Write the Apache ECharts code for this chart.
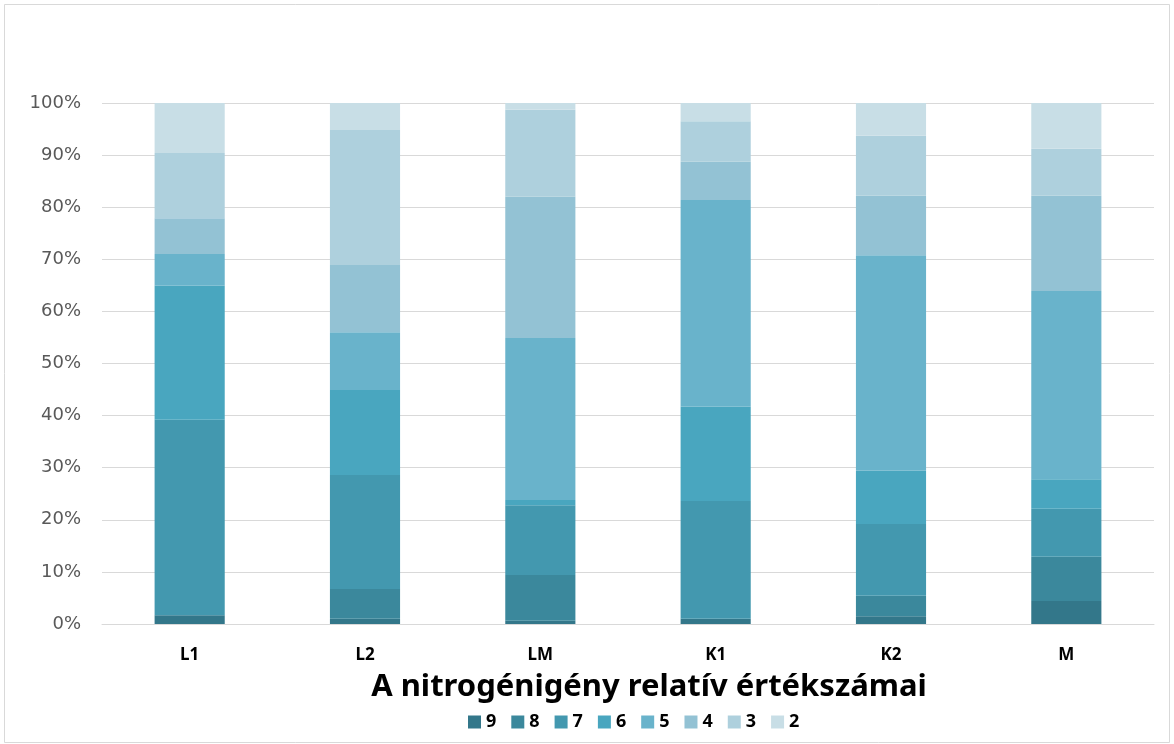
<!DOCTYPE html>
<html>
<head>
<meta charset="utf-8">
<script src="https://cdn.jsdelivr.net/npm/echarts@6/dist/echarts.min.js"></script>
<style>
  html, body { margin: 0; padding: 0; background: #ffffff; }
  #chart { width: 1174px; height: 744px; }
</style>
</head>
<body>
<div id="chart"></div>
<script>
// Sites on the x axis
const categories = ['L1', 'L2', 'LM', 'K1', 'K2', 'M'];

// Share (%) of each relative nitrogen-demand value per site
const n9 = [1.7, 1.0, 0.6, 1.0, 1.5, 4.4];
const n8 = [0.0, 5.7, 8.8, 0.0, 3.9, 8.5];
const n7 = [37.5, 21.9, 13.4, 22.6, 13.8, 9.2];
const n6 = [25.7, 16.3, 1.0, 18.1, 10.2, 5.7];
const n5 = [6.1, 11.1, 31.1, 39.7, 41.4, 36.1];
const n4 = [6.9, 12.9, 27.1, 7.3, 11.4, 18.3];
const n3 = [12.5, 25.9, 16.7, 7.8, 11.5, 9.0];
const n2 = [9.6, 5.2, 1.3, 3.5, 6.3, 8.8];

const seriesNames = ['9', '8', '7', '6', '5', '4', '3', '2'];
const seriesData = [n9, n8, n7, n6, n5, n4, n3, n2];
const seriesColors = ['#33778a', '#3b889c', '#4398af', '#49a6bf', '#69b3cb', '#93c2d4', '#aed0dd', '#c8dee6'];

const yTicks = { min: 0, max: 100, interval: 10 };

const chart = echarts.init(document.getElementById('chart'), null, { renderer: 'canvas' });

const option = {
  backgroundColor: '#ffffff',
  animation: false,
  graphic: [{
    type: 'rect',
    shape: { x: 4.5, y: 4.5, width: 1165, height: 738 },
    style: { fill: 'none', stroke: '#d9d9d9', lineWidth: 1 },
    silent: true
  }],
  title: {
    text: 'A nitrogénigény relatív értékszámai',
    left: 644,
    textAlign: 'center',
    top: 667,
    textStyle: {
      fontFamily: 'Noto Sans',
      fontWeight: 'bold',
      fontSize: 31,
      color: '#000000'
    }
  },
  legend: {
    data: seriesNames,
    left: 463,
    top: 708,
    itemWidth: 13,
    itemHeight: 13,
    itemGap: 15,
    icon: 'rect',
    textStyle: {
      fontFamily: 'Noto Sans',
      fontWeight: 'bold',
      fontSize: 18,
      color: '#000000'
    }
  },
  grid: {
    left: 102,
    right: 20,
    top: 103,
    bottom: 120,
    containLabel: false
  },
  xAxis: {
    type: 'category',
    data: categories,
    axisLine: { show: true, lineStyle: { color: '#d9d9d9', width: 1 } },
    axisTick: { show: false },
    axisLabel: {
      margin: 23,
      fontFamily: 'Noto Sans',
      fontWeight: 'bold',
      fontSize: 17,
      color: '#000000'
    }
  },
  yAxis: {
    type: 'value',
    min: yTicks.min,
    max: yTicks.max,
    interval: yTicks.interval,
    axisLine: { show: false },
    axisTick: { show: false },
    splitLine: { lineStyle: { color: '#d9d9d9', width: 1 } },
    axisLabel: {
      formatter: '{value}%',
      margin: 21,
      fontFamily: 'DejaVu Sans',
      fontSize: 18,
      color: '#595959'
    }
  },
  series: seriesNames.map((name, i) => ({
    name: name,
    type: 'bar',
    stack: 'total',
    barWidth: '40%',
    data: seriesData[i],
    itemStyle: { color: seriesColors[i] }
  }))
};

chart.setOption(option);
</script>
</body>
</html>
